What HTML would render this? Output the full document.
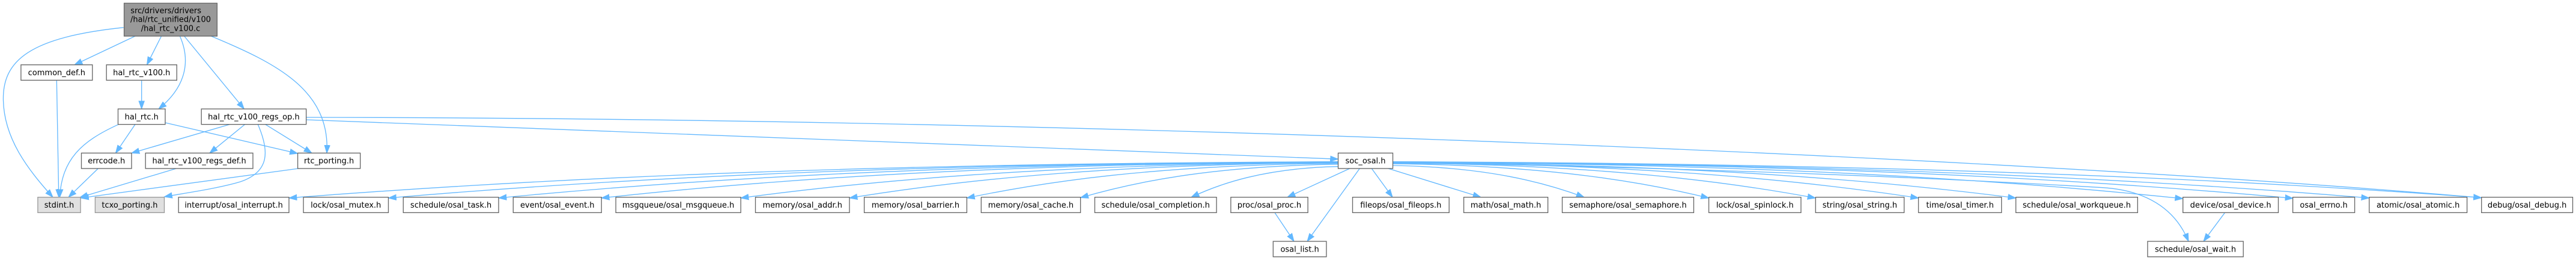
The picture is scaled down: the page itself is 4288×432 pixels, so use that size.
<!DOCTYPE html>
<html>
<head>
<meta charset="utf-8">
<style>
html,body{margin:0;padding:0;background:#fff;}
svg{display:block;}
text{font-family:"DejaVu Sans","Liberation Sans",sans-serif;font-size:13px;fill:#000;}
.n{fill:#fff;stroke:#666;stroke-width:1.33;}
.g{fill:#e0e0e0;stroke:#999;stroke-width:1.33;}
.m{fill:#999;stroke:#666;stroke-width:1.33;}
.e{fill:none;stroke:#63b8ff;stroke-width:1.33;marker-end:url(#a);}
</style>
</head>
<body>
<svg width="4288" height="432" viewBox="0 0 4288 432" xmlns="http://www.w3.org/2000/svg">
<defs>
<marker id="a" markerUnits="userSpaceOnUse" markerWidth="15" markerHeight="12" refX="13.3" refY="6" orient="auto">
<path d="M0,1.3 L13.3,6 L0,10.7 Z" fill="#63b8ff" stroke="#63b8ff" stroke-width="1"/>
</marker>
</defs>
<rect width="4288" height="432" fill="#fff"/>

<!-- edges -->
<path class="e" d="M205.7,45.7 C50,62 4,100 5.5,166.7 C7,230 45,280 88,327.67"/>
<path class="e" d="M225,60 L124,107.67"/>
<path class="e" d="M268.6,60 L244.5,107.67"/>
<path class="e" d="M299.4,60 C315,95 315,140 264,181"/>
<path class="e" d="M306.7,60 L406.4,181"/>
<path class="e" d="M351.3,60 C460,105 550,150 544,254.33"/>
<path class="e" d="M94.3,133.33 L97.8,327.67"/>
<path class="e" d="M235.7,133.33 L235.7,181"/>
<path class="e" d="M197.4,206.67 C135,235 103,265 99.5,327.67"/>
<path class="e" d="M225,206.67 L192.5,254.33"/>
<path class="e" d="M275.5,204 L495.5,255"/>
<path class="e" d="M382.5,206.67 L219,254.33"/>
<path class="e" d="M407.7,206.67 L349,254.33"/>
<path class="e" d="M429.3,206.67 C448,250 450,285 400,302 C360,314 300,322 273.5,327"/>
<path class="e" d="M441.7,206.67 L519,254.33"/>
<path class="e" d="M509.7,199 L2227.5,264.3"/>
<path class="e" d="M509.7,195 C1800,196 3300,258 4130.5,328.5"/>
<path class="e" d="M163.3,280 L114,327.67"/>
<path class="e" d="M293.3,280 L133,328"/>
<path class="e" d="M496.7,280 L134.5,329"/>

<!-- soc_osal left fan -->
<path class="e" d="M2227.5,268.7 C1354.3,271.7 830.3,301.9 481,329"/>
<path class="e" d="M2227.5,268.9 C1437,271.9 962.7,302 646.5,329"/>
<path class="e" d="M2227.5,269.1 C1528.8,272.1 1109.5,302 830,329"/>
<path class="e" d="M2227.5,269.4 C1614.4,272.4 1246.5,302.2 1001.2,329"/>
<path class="e" d="M2227.5,269.9 C1730.3,272.9 1432,302.4 1233.1,329"/>
<path class="e" d="M2227.5,270.4 C1820.8,273.3 1576.7,302.6 1414,329"/>
<path class="e" d="M2227.5,271.4 C1918.5,274.3 1733,303.1 1609.4,329"/>
<path class="e" d="M2227.5,273 C2013,275.8 1884.4,303.5 1798.6,328.5"/>
<path class="e" d="M2227.5,276.7 C2105.3,279.3 2031.9,304.7 1983,327.67"/>
<!-- soc_osal bottom -->
<path class="e" d="M2246.7,280 L2143,327.67"/>
<path class="e" d="M2263.3,280 L2176,401"/>
<path class="e" d="M2283.3,280 L2318,327.67"/>
<path class="e" d="M2311,280 L2465,327.67"/>
<!-- soc_osal right fan -->
<path class="e" d="M2318.5,275 C2477.8,277.6 2573.3,304 2637,327.67"/>
<path class="e" d="M2318.5,272.1 C2581.5,274.9 2739.3,303.4 2844.5,329"/>
<path class="e" d="M2318.5,270.9 C2670.3,273.8 2881.3,302.9 3022,329"/>
<path class="e" d="M2318.5,270.2 C2756,273.1 3018.5,302.5 3193.5,329"/>
<path class="e" d="M2318.5,269.8 C2837,272.8 3148.2,302.4 3355.6,329"/>
<path class="e" d="M2318.5,269.3 C2976.1,272.3 3370.7,302.7 3633.7,330"/>
<path class="e" d="M2318.5,269 C3067.8,272 3517.3,302.3 3817,329.5"/>
<path class="e" d="M2318.5,268.9 C3131.2,271.9 3618.7,302 3943.8,329"/>
<path class="e" d="M2318.5,268.7 C3224.5,271.7 3768.1,301.6 4130.5,328.5"/>
<path class="e" d="M2318.5,270 C2900,280 3300,300 3500,311.7 C3570,316 3620,345 3643,401"/>
<!-- rank4 -> rank5 -->
<path class="e" d="M2122,353.33 L2154,401"/>
<path class="e" d="M3703.5,353.33 L3668,401"/>

<!-- nodes -->
<rect class="m" x="206.6" y="5.33" width="154.8" height="54.67"/>
<text x="217.2" y="22">src/drivers/drivers</text>
<text x="284" y="36.67" text-anchor="middle">/hal/rtc_unified/v100</text>
<text x="284" y="51.33" text-anchor="middle">/hal_rtc_v100.c</text>

<g text-anchor="middle">
<rect class="n" x="34.9" y="107.67" width="118.9" height="25.67"/><text x="94.35" y="125">common_def.h</text>
<rect class="n" x="177.2" y="107.67" width="117.1" height="25.67"/><text x="235.75" y="125">hal_rtc_v100.h</text>

<rect class="n" x="196.5" y="181" width="78.5" height="25.67"/><text x="235.75" y="198.3">hal_rtc.h</text>
<rect class="n" x="335.2" y="181" width="174.5" height="25.67"/><text x="422.45" y="198.3">hal_rtc_v100_regs_op.h</text>

<rect class="n" x="135.5" y="254.33" width="83.5" height="25.67"/><text x="177.25" y="271.6">errcode.h</text>
<rect class="n" x="242.2" y="254.33" width="178.8" height="25.67"/><text x="331.6" y="271.6">hal_rtc_v100_regs_def.h</text>
<rect class="n" x="495.6" y="254.33" width="104.1" height="25.67"/><text x="547.65" y="271.6">rtc_porting.h</text>
<rect class="n" x="2227.5" y="254.33" width="91" height="25.67"/><text x="2273" y="271.6">soc_osal.h</text>

<rect class="g" x="62.9" y="327.67" width="71.2" height="25.67"/><text x="98.5" y="345">stdint.h</text>
<rect class="g" x="158.4" y="327.67" width="115.1" height="25.67"/><text x="215.95" y="345">tcxo_porting.h</text>
<rect class="n" x="297.2" y="327.67" width="183.8" height="25.67"/><text x="389.1" y="345">interrupt/osal_interrupt.h</text>
<rect class="n" x="505.1" y="327.67" width="141.4" height="25.67"/><text x="575.8" y="345">lock/osal_mutex.h</text>
<rect class="n" x="671.3" y="327.67" width="158.7" height="25.67"/><text x="750.65" y="345">schedule/osal_task.h</text>
<rect class="n" x="854.3" y="327.67" width="146.9" height="25.67"/><text x="927.75" y="345">event/osal_event.h</text>
<rect class="n" x="1025.1" y="327.67" width="208" height="25.67"/><text x="1129.1" y="345">msgqueue/osal_msgqueue.h</text>
<rect class="n" x="1257.5" y="327.67" width="156.5" height="25.67"/><text x="1335.75" y="345">memory/osal_addr.h</text>
<rect class="n" x="1438.6" y="327.67" width="170.8" height="25.67"/><text x="1524" y="345">memory/osal_barrier.h</text>
<rect class="n" x="1633.3" y="327.67" width="165.3" height="25.67"/><text x="1715.95" y="345">memory/osal_cache.h</text>
<rect class="n" x="1822.4" y="327.67" width="202.6" height="25.67"/><text x="1923.7" y="345">schedule/osal_completion.h</text>
<rect class="n" x="2048.8" y="327.67" width="128.3" height="25.67"/><text x="2112.95" y="345">proc/osal_proc.h</text>
<rect class="n" x="2251.5" y="327.67" width="160.7" height="25.67"/><text x="2331.85" y="345">fileops/osal_fileops.h</text>
<rect class="n" x="2436.6" y="327.67" width="140" height="25.67"/><text x="2506.6" y="345">math/osal_math.h</text>
<rect class="n" x="2600.5" y="327.67" width="218.9" height="25.67"/><text x="2709.95" y="345">semaphore/osal_semaphore.h</text>
<rect class="n" x="2844.5" y="327.67" width="153.4" height="25.67"/><text x="2921.2" y="345">lock/osal_spinlock.h</text>
<rect class="n" x="3022.2" y="327.67" width="147.4" height="25.67"/><text x="3095.9" y="345">string/osal_string.h</text>
<rect class="n" x="3193.5" y="327.67" width="138.2" height="25.67"/><text x="3262.6" y="345">time/osal_timer.h</text>
<rect class="n" x="3355.6" y="327.67" width="202.7" height="25.67"/><text x="3456.95" y="345">schedule/osal_workqueue.h</text>
<rect class="n" x="3633.7" y="327.67" width="158.8" height="25.67"/><text x="3713.1" y="345">device/osal_device.h</text>
<rect class="n" x="3816.6" y="327.67" width="103" height="25.67"/><text x="3868.1" y="345">osal_errno.h</text>
<rect class="n" x="3943.8" y="327.67" width="162.8" height="25.67"/><text x="4025.2" y="345">atomic/osal_atomic.h</text>
<rect class="n" x="4130.7" y="327.67" width="151.8" height="25.67"/><text x="4206.6" y="345">debug/osal_debug.h</text>

<rect class="n" x="2119.3" y="401" width="88.6" height="25.67"/><text x="2163.6" y="418.3">osal_list.h</text>
<rect class="n" x="3574.9" y="401" width="159.3" height="25.67"/><text x="3654.55" y="418.3">schedule/osal_wait.h</text>
</g>
</svg>
</body>
</html>
